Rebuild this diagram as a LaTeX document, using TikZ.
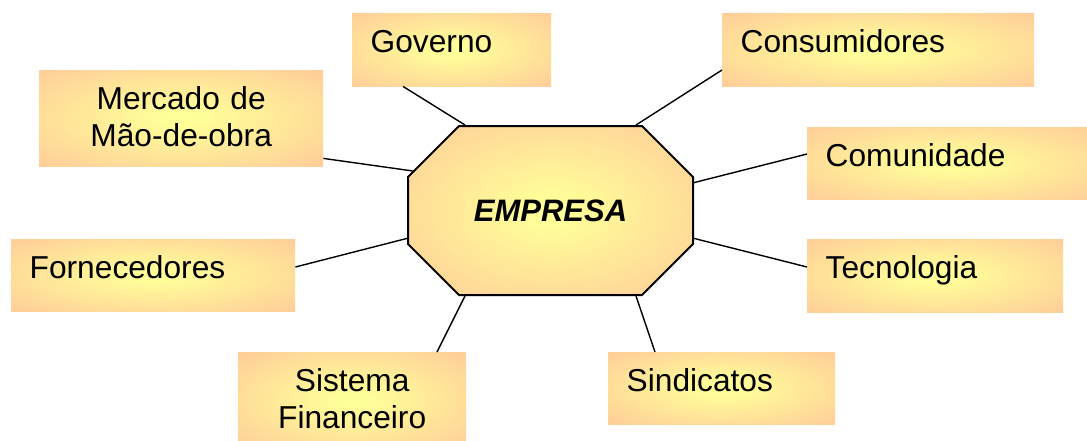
\documentclass[tikz,border=0pt]{standalone}
\usepackage{fontspec}
\setmainfont{Liberation Sans}
\usetikzlibrary{shapes.misc}
\definecolor{glowin}{RGB}{255,255,153}
\definecolor{glowout}{RGB}{255,204,153}
\pgfdeclareradialshading{glow}{\pgfpoint{0bp}{0bp}}{color(0bp)=(glowin); color(3bp)=(glowin); color(36bp)=(glowout); color(50bp)=(glowout)}
\tikzset{
	box/.style={anchor=north west, shade, shading=glow, inner xsep=18.5pt, inner ysep=0pt, text height=39pt, align=left, font=\fontsize{31.7}{37}\selectfont},
	link/.style={line width=1.4pt},
}
\begin{document}
\begin{tikzpicture}[x=1pt, y=-1pt]
	\useasboundingbox (0,0) rectangle (1087,440);
	\node[chamfered rectangle, chamfered rectangle xsep=42pt, chamfered rectangle ysep=40pt, minimum width=285pt, minimum height=169pt, inner sep=0pt, draw, line width=2pt, shade, shading=glow, font=\fontsize{31}{37}\selectfont\bfseries\itshape] (0) at (550.5, 210.5) {EMPRESA};
	\node[box, text width=162pt, text depth=34pt] (1) at (352, 13) {Governo};
	\node[box, text width=275pt, text depth=34pt] (2) at (722, 13) {Consumidores};
	\node[box, text width=247pt, text depth=57pt, align=center] (3) at (39, 70) {Mercado de\\Mão-de-obra};
	\node[box, text width=253pt, text depth=33pt] (4) at (807, 127) {Comunidade};
	\node[box, text width=247pt, text depth=33pt] (5) at (11, 239) {Fornecedores};
	\node[box, text width=219pt, text depth=34pt] (6) at (807, 239) {Tecnologia};
	\node[box, text width=191pt, text depth=57pt, align=center] (7) at (238, 352) {Sistema\\Financeiro};
	\node[box, text width=190pt, text depth=33pt] (8) at (608, 352) {Sindicatos};
	\draw[link] ([xshift=51pt]1.south west) to (0.135);
	\draw[link] ([yshift=-57pt]2.north west) to (0.45);
	\draw[link] ([yshift=8pt]3.south east) to (0.164);
	\draw[link] ([yshift=-27pt]4.north west) to (0.11);
	\draw[link] ([yshift=-28pt]5.north east) to (0.191);
	\draw[link] ([yshift=-28pt]6.north west) to (0.349);
	\draw[link] ([xshift=199pt]7.north west) to (0.225);
	\draw[link] ([xshift=47pt]8.north west) to (0.315);
\end{tikzpicture}
\end{document}
